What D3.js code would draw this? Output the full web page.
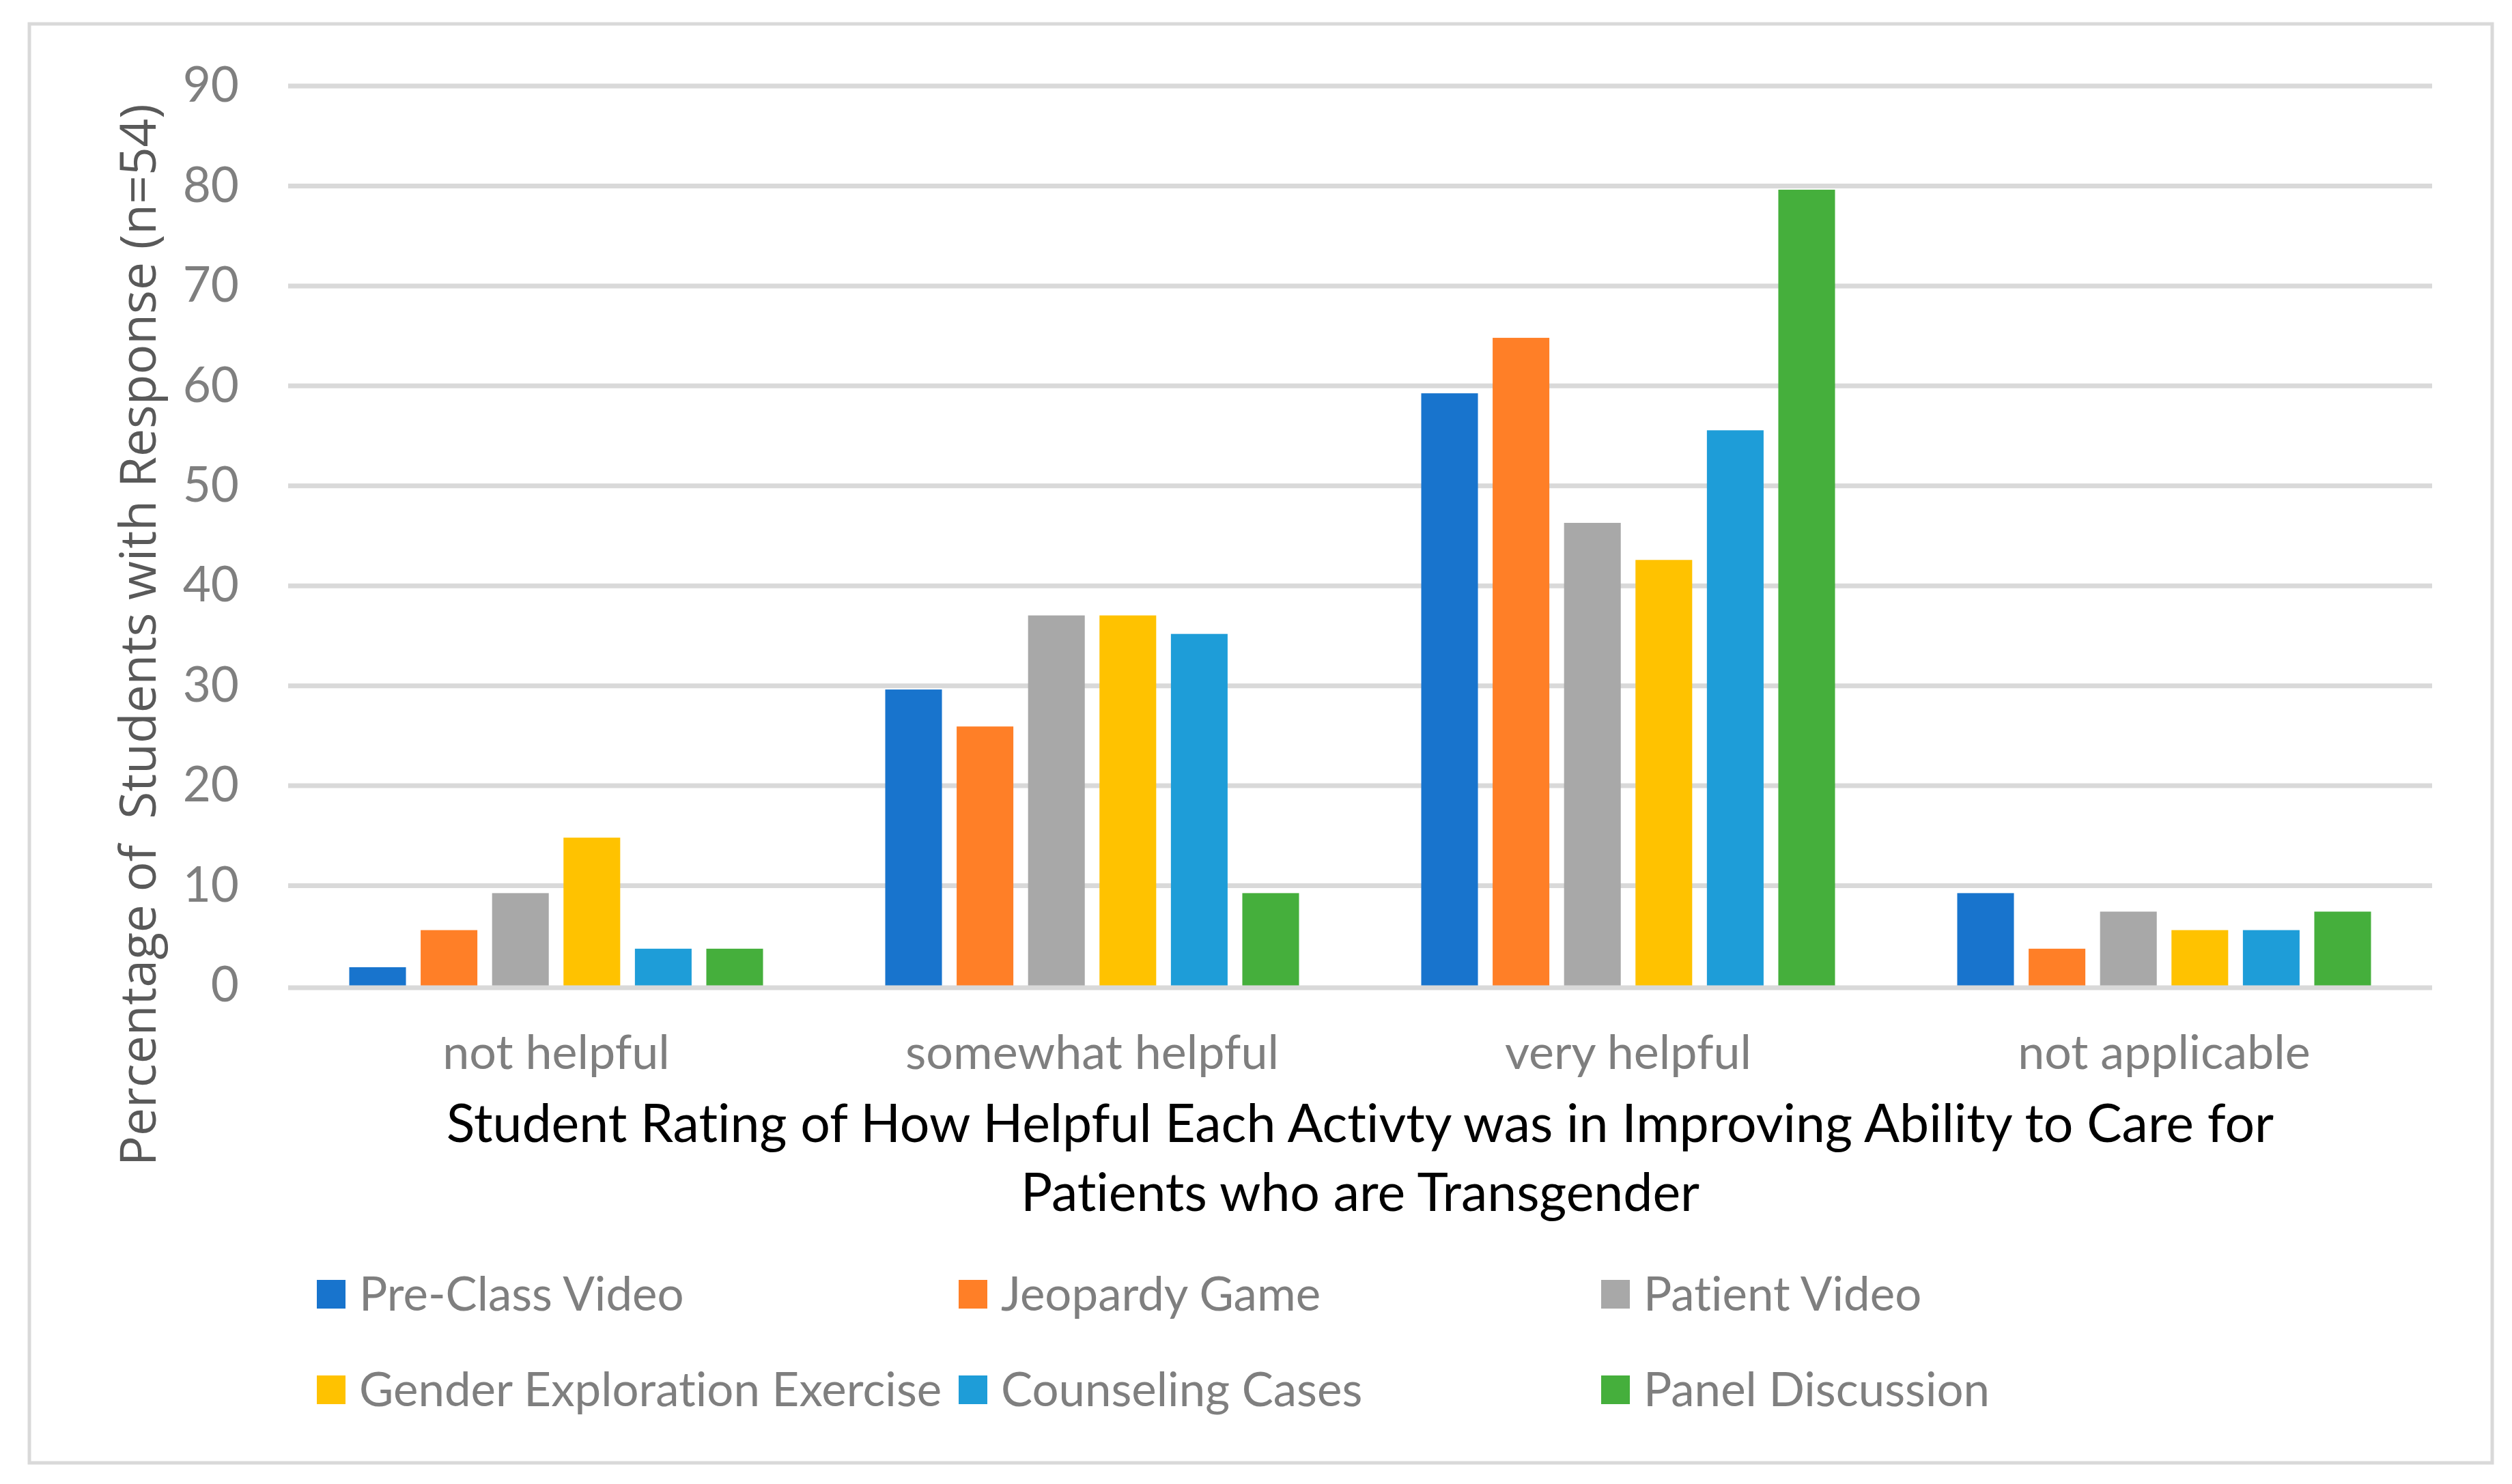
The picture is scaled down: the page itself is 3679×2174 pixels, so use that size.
<!DOCTYPE html>
<html>
<head>
<meta charset="utf-8">
<script src="https://cdn.jsdelivr.net/npm/d3@7"></script>
<style>
  html, body { margin: 0; padding: 0; background: #ffffff; }
  svg { display: block; }
  text { font-variant-ligatures: none; font-feature-settings: "liga" 0, "dlig" 0; }
</style>
</head>
<body>
<div id="chart"></div>
<script>
// ---------- DATA ----------
const categories = ["not helpful", "somewhat helpful", "very helpful", "not applicable"];
const seriesNames = ["Pre-Class Video", "Jeopardy Game", "Patient Video",
                     "Gender Exploration Exercise", "Counseling Cases", "Panel Discussion"];
const preClassVideo     = [1.85, 29.63, 59.26, 9.26];
const jeopardyGame      = [5.56, 25.93, 64.81, 3.70];
const patientVideo      = [9.26, 37.04, 46.30, 7.41];
const genderExploration = [14.81, 37.04, 42.59, 5.56];
const counselingCases   = [3.70, 35.19, 55.56, 5.56];
const panelDiscussion   = [3.70, 9.26, 79.63, 7.41];
const yTicks = [0, 10, 20, 30, 40, 50, 60, 70, 80, 90];
const yTitle = "Percentage of  Students with Response (n=54)";
const xTitleLines = ["Student Rating of How Helpful Each Activty was in Improving Ability to Care for",
                     "Patients who are Transgender"];
const seriesColors = ["#1874CD", "#FF7F27", "#A8A8A8", "#FFC200", "#1E9DD8", "#45AF3C"];

const seriesValues = [preClassVideo, jeopardyGame, patientVideo, genderExploration, counselingCases, panelDiscussion];

// ---------- LAYOUT ----------
const W = 3679, H = 2174;
const plot = { left: 422, right: 3562, top: 126, bottom: 1444 };
const labelFont = "Lato, 'Open Sans', sans-serif";
const gray = "#7F7F7F";

const svg = d3.select("#chart").append("svg")
  .attr("width", W).attr("height", H);

svg.append("rect").attr("x", 0).attr("y", 0).attr("width", W).attr("height", H).attr("fill", "#fff");
// outer chart frame
svg.append("rect")
  .attr("x", 43).attr("y", 35).attr("width", 3607).attr("height", 2108)
  .attr("fill", "#fff").attr("stroke", "#D9D9D9").attr("stroke-width", 5);

const y = d3.scaleLinear().domain([0, 90]).range([plot.bottom, plot.top]);
const x0 = d3.scaleBand().domain(categories).range([plot.left, plot.right]).padding(0);
const groupPad = x0.bandwidth() * 0.114;
const x1 = d3.scaleBand().domain(seriesNames)
  .range([groupPad, x0.bandwidth() - groupPad]).paddingInner(0.206).paddingOuter(0);

// gridlines
svg.append("g").selectAll("line").data(yTicks.filter(t => t > 0)).join("line")
  .attr("x1", plot.left).attr("x2", plot.right)
  .attr("y1", d => y(d)).attr("y2", d => y(d))
  .attr("stroke", "#D9D9D9").attr("stroke-width", 7);

// y-axis tick labels via d3 axis
const yAxis = svg.append("g")
  .attr("transform", `translate(350,0)`)
  .call(d3.axisLeft(y).tickValues(yTicks).tickSize(0).tickPadding(0).tickFormat(d3.format("d")));
yAxis.select(".domain").remove();
yAxis.selectAll("text")
  .attr("fill", gray).style("font-family", labelFont).style("font-size", "71px");

// bars
const groups = svg.append("g").selectAll("g").data(seriesNames).join("g")
  .attr("fill", (d, i) => seriesColors[i]);
groups.selectAll("rect")
  .data((s, si) => categories.map((c, ci) => ({ c, s, v: seriesValues[si][ci] })))
  .join("rect")
  .attr("x", d => x0(d.c) + x1(d.s))
  .attr("width", x1.bandwidth())
  .attr("y", d => y(d.v))
  .attr("height", d => y(0) - y(d.v));

// zero axis line
svg.append("line")
  .attr("x1", plot.left).attr("x2", plot.right)
  .attr("y1", y(0) + 3).attr("y2", y(0) + 3)
  .attr("stroke", "#D9D9D9").attr("stroke-width", 7);

// category labels via d3 axis
const xAxis = svg.append("g")
  .attr("transform", `translate(0,${y(0)})`)
  .call(d3.axisBottom(x0).tickSize(0).tickPadding(0));
xAxis.select(".domain").remove();
xAxis.selectAll("text")
  .attr("dy", null).attr("y", 122)
  .attr("fill", gray).style("font-family", labelFont).style("font-size", "70px");

// x title
const cx = (plot.left + plot.right) / 2;
svg.append("g").selectAll("text").data(xTitleLines).join("text")
  .attr("x", cx).attr("y", (d, i) => 1673 + i * 101)
  .attr("text-anchor", "middle")
  .attr("fill", "#000").style("font-family", labelFont).style("font-size", "77px")
  .text(d => d);

// y title
svg.append("text")
  .attr("transform", "translate(228,930) rotate(-90)")
  .attr("text-anchor", "middle")
  .attr("fill", "#595959").style("font-family", "'Open Sans', sans-serif").style("font-size", "73px")
  .style("white-space", "pre")
  .text(yTitle);

// legend
const legCols = [464, 1404, 2345];
const legRows = [1875, 2015];
const leg = svg.append("g").selectAll("g").data(seriesNames).join("g")
  .attr("transform", (d, i) => `translate(${legCols[i % 3]},${legRows[Math.floor(i / 3)]})`);
leg.append("rect").attr("width", 42).attr("height", 42).attr("fill", (d, i) => seriesColors[i]);
leg.append("text").attr("x", 62).attr("y", 45)
  .attr("fill", gray).style("font-family", labelFont).style("font-size", "69px")
  .text(d => d);
</script>
</body>
</html>
